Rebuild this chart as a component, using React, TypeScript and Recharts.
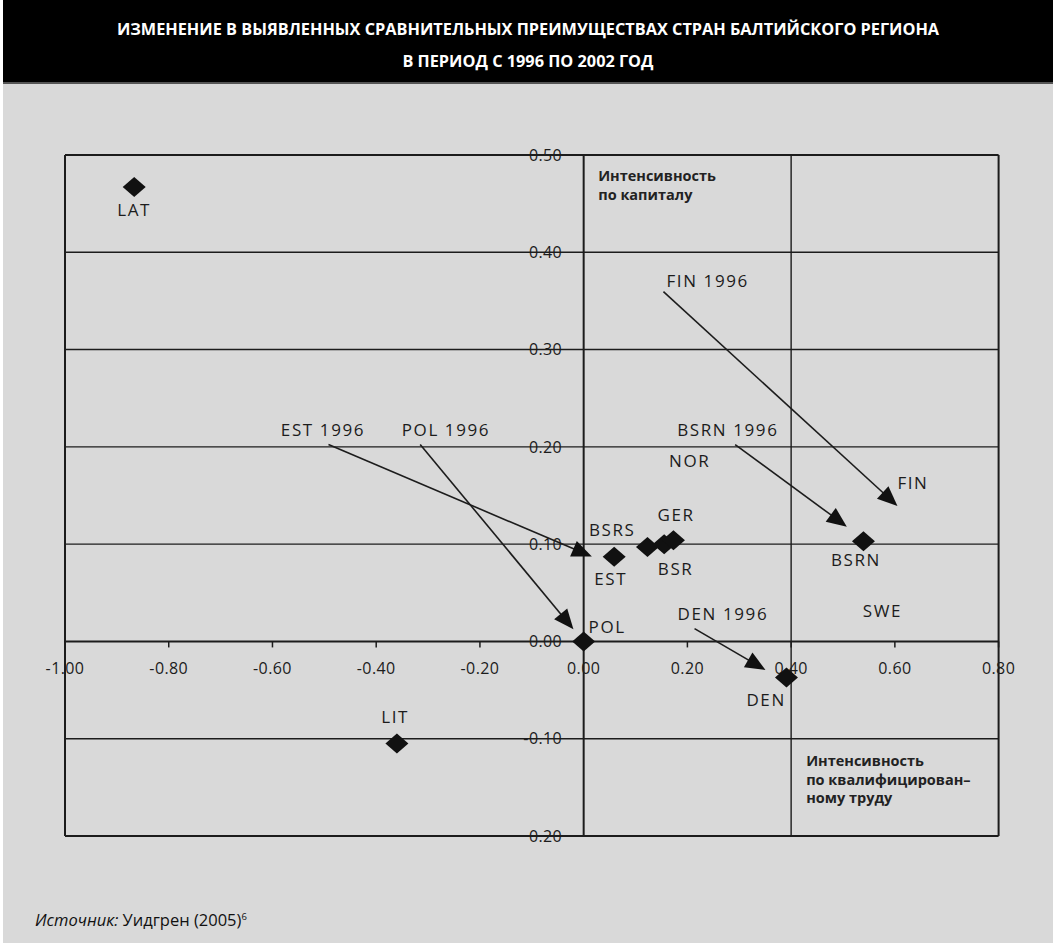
import React from 'react';
import { ScatterChart, Scatter, XAxis, YAxis, ReferenceLine, ReferenceDot } from 'recharts';

const titleLines = [
  'ИЗМЕНЕНИЕ В ВЫЯВЛЕННЫХ СРАВНИТЕЛЬНЫХ ПРЕИМУЩЕСТВАХ СТРАН БАЛТИЙСКОГО РЕГИОНА',
  'В ПЕРИОД С 1996 ПО 2002 ГОД',
];

const xTicks = [-1.0, -0.8, -0.6, -0.4, -0.2, 0.0, 0.2, 0.4, 0.6, 0.8];
const xTickLabels = ['-1.00', '-0.80', '-0.60', '-0.40', '-0.20', '0.00', '0.20', '0.40', '0.60', '0.80'];
const yTicks = [0.5, 0.4, 0.3, 0.2, 0.1, 0.0, -0.1, -0.2];
const yTickLabels = ['0.50', '0.40', '0.30', '0.20', '0.10', '0.00', '-0.10', '0.20'];
const verticalGrid = [0.4];
const borderX = [-1.0, 0.8];
const borderY = [0.5, -0.2];

const countries = [
  { name: 'LAT', x: -0.8666, y: 0.467 },
  { name: 'LIT', x: -0.3601, y: -0.105 },
  { name: 'POL', x: 0.0, y: 0.0 },
  { name: 'EST', x: 0.0588, y: 0.087 },
  { name: 'BSRS', x: 0.123, y: 0.097 },
  { name: 'BSR', x: 0.1552, y: 0.1 },
  { name: 'GER', x: 0.1731, y: 0.104 },
  { name: 'BSRN', x: 0.5394, y: 0.103 },
  { name: 'DEN', x: 0.391, y: -0.0372 },
];

const pointLabels = [
  { text: 'LAT', x: -0.8666, y: 0.4435 },
  { text: 'LIT', x: -0.3634, y: -0.0776 },
  { text: 'BSRS', x: 0.0549, y: 0.1146 },
  { text: 'EST', x: 0.0521, y: 0.0645 },
  { text: 'GER', x: 0.1783, y: 0.13 },
  { text: 'BSR', x: 0.1774, y: 0.0748 },
  { text: 'POL', x: 0.0453, y: 0.0152 },
  { text: 'DEN 1996', x: 0.2684, y: 0.0284 },
  { text: 'SWE', x: 0.5761, y: 0.031 },
  { text: 'DEN', x: 0.3518, y: -0.0601 },
  { text: 'FIN 1996', x: 0.2391, y: 0.3705 },
  { text: 'BSRN 1996', x: 0.278, y: 0.2177 },
  { text: 'NOR', x: 0.2044, y: 0.1852 },
  { text: 'FIN', x: 0.6349, y: 0.1629 },
  { text: 'BSRN', x: 0.525, y: 0.0841 },
  { text: 'EST 1996', x: -0.5026, y: 0.2174 },
  { text: 'POL 1996', x: -0.2655, y: 0.2174 },
];

const arrows = [
  { name: 'FIN', x1: 0.1538, y1: 0.3595, x2: 0.605, y2: 0.1393 },
  { name: 'BSRN', x1: 0.2921, y1: 0.2024, x2: 0.5074, y2: 0.118 },
  { name: 'EST', x1: -0.492, y1: 0.2024, x2: 0.0158, y2: 0.0872 },
  { name: 'POL', x1: -0.3152, y1: 0.2024, x2: -0.0197, y2: 0.0125 },
  { name: 'DEN', x1: 0.2138, y1: 0.0132, x2: 0.3505, y2: -0.0293 },
];

const quadrantNotes = [
  { lines: ['Интенсивность', 'по капиталу'], x: 0.028, y: 0.4785 },
  { lines: ['Интенсивность', 'по квалифицирован–', 'ному труду'], x: 0.429, y: -0.1228 },
];

const FONT = '"Open Sans", "Noto Sans", sans-serif';
const INK = '#1c1c1c';

const Diamond = (p: any) => {
  const { cx, cy } = p;
  return (
    <polygon
      points={`${cx},${cy - 10} ${cx + 11.5},${cy} ${cx},${cy + 10} ${cx - 11.5},${cy}`}
      fill="#111"
    />
  );
};

const pointLabelShape = (text: string) => (p: any) => (
  <text
    x={p.cx}
    y={p.cy}
    dy="0.36em"
    textAnchor="middle"
    fontFamily={FONT}
    fontSize={17}
    letterSpacing={1.6}
    fill={INK}
  >
    {text}
  </text>
);

const xTickShape = (label: string) => (p: any) => (
  <g>
    <line x1={p.cx} y1={p.cy} x2={p.cx} y2={p.cy + 6} stroke={INK} strokeWidth={1.5} />
    <text
      x={p.cx}
      y={p.cy + 26.5}
      dy="0.36em"
      textAnchor="middle"
      fontFamily={FONT}
      fontSize={16}
      letterSpacing={0.4}
      fill={INK}
    >
      {label}
    </text>
  </g>
);

const yTickShape = (label: string) => (p: any) => (
  <text
    x={p.cx - 21.5}
    y={p.cy}
    dy="0.36em"
    textAnchor="end"
    fontFamily={FONT}
    fontSize={16}
    letterSpacing={0.4}
    fill={INK}
  >
    {label}
  </text>
);

const noteShape = (lines: string[]) => (p: any) => (
  <text x={p.cx} y={p.cy} fontFamily={FONT} fontSize={14.5} fontWeight={700} fill="#222">
    {lines.map((l: string, i: number) => (
      <tspan key={i} x={p.cx} dy={i === 0 ? '0.36em' : 18.5}>
        {l}
      </tspan>
    ))}
  </text>
);

const ArrowShape = (props: any) => {
  const { x1, y1, x2, y2 } = props;
  const dx = x2 - x1;
  const dy = y2 - y1;
  const len = Math.hypot(dx, dy) || 1;
  const ux = dx / len;
  const uy = dy / len;
  const headLen = 20;
  const headHalf = 8.5;
  const bx = x2 - ux * headLen;
  const by = y2 - uy * headLen;
  const px = -uy;
  const py = ux;
  return (
    <g>
      <line x1={x1} y1={y1} x2={bx + ux * 2} y2={by + uy * 2} stroke={INK} strokeWidth={1.6} />
      <polygon
        points={`${x2},${y2} ${bx + px * headHalf},${by + py * headHalf} ${bx - px * headHalf},${by - py * headHalf}`}
        fill="#111"
      />
    </g>
  );
};

export default function App() {
  return (
    <div style={{ position: 'relative', width: 1053, height: 943, background: '#fff' }}>
      <style>{'body{margin:0}'}</style>
      <div
        style={{
          position: 'absolute',
          left: 3,
          top: 0,
          width: 1050,
          height: 943,
          background: '#d9d9d9',
        }}
      />
      <div
        style={{
          position: 'absolute',
          left: 3,
          top: 0,
          width: 1050,
          height: 84,
          background: '#000',
          borderBottom: '2px solid #555',
          color: '#fff',
          fontFamily: FONT,
          fontWeight: 700,
          fontSize: 16.3,
          textAlign: 'center',
          lineHeight: '32px',
          paddingTop: 13,
          boxSizing: 'border-box',
        }}
      >
        {titleLines.map((t, i) => (
          <div key={i}>{t}</div>
        ))}
      </div>
      <div
        style={{
          position: 'absolute',
          left: 35,
          top: 909,
          fontFamily: FONT,
          fontSize: 16.5,
          color: '#111',
          lineHeight: '22px',
        }}
      >
        <i>Источник:</i> Уидгрен (2005)
        <sup style={{ fontSize: 9.5, verticalAlign: 'top', position: 'relative', top: -3 }}>6</sup>
      </div>
      <div style={{ position: 'absolute', left: 0, top: 0 }}>
        <ScatterChart width={1053} height={943} margin={{ top: 155, right: 54.4, bottom: 107, left: 65 }}>
          <XAxis type="number" dataKey="x" domain={[-1, 0.8]} hide allowDataOverflow />
          <YAxis type="number" dataKey="y" domain={[-0.2, 0.5]} hide allowDataOverflow />
          {yTicks.map((v) => (
            <ReferenceLine
              key={'h' + v}
              y={v}
              stroke={INK}
              strokeWidth={borderY.includes(v) || v === 0 ? 2 : 1.4}
              ifOverflow="visible"
            />
          ))}
          {verticalGrid.map((v) => (
            <ReferenceLine key={'v' + v} x={v} stroke={INK} strokeWidth={1.4} ifOverflow="visible" />
          ))}
          {borderX.map((v) => (
            <ReferenceLine key={'b' + v} x={v} stroke={INK} strokeWidth={2} ifOverflow="visible" />
          ))}
          <ReferenceLine x={0} stroke={INK} strokeWidth={2} ifOverflow="visible" />
          {arrows.map((a) => (
            <ReferenceLine
              key={'a' + a.name}
              segment={[
                { x: a.x1, y: a.y1 },
                { x: a.x2, y: a.y2 },
              ]}
              ifOverflow="visible"
              shape={ArrowShape}
            />
          ))}
          {xTicks.map((v, i) => (
            <ReferenceDot key={'xt' + v} x={v} y={0} r={0} ifOverflow="visible" shape={xTickShape(xTickLabels[i])} />
          ))}
          {yTicks.map((v, i) => (
            <ReferenceDot key={'yt' + v} x={0} y={v} r={0} ifOverflow="visible" shape={yTickShape(yTickLabels[i])} />
          ))}
          <Scatter data={countries} shape={Diamond} isAnimationActive={false} />
          {pointLabels.map((l) => (
            <ReferenceDot key={'pl' + l.text} x={l.x} y={l.y} r={0} ifOverflow="visible" shape={pointLabelShape(l.text)} />
          ))}
          {quadrantNotes.map((n, i) => (
            <ReferenceDot key={'qn' + i} x={n.x} y={n.y} r={0} ifOverflow="visible" shape={noteShape(n.lines)} />
          ))}
        </ScatterChart>
      </div>
    </div>
  );
}
